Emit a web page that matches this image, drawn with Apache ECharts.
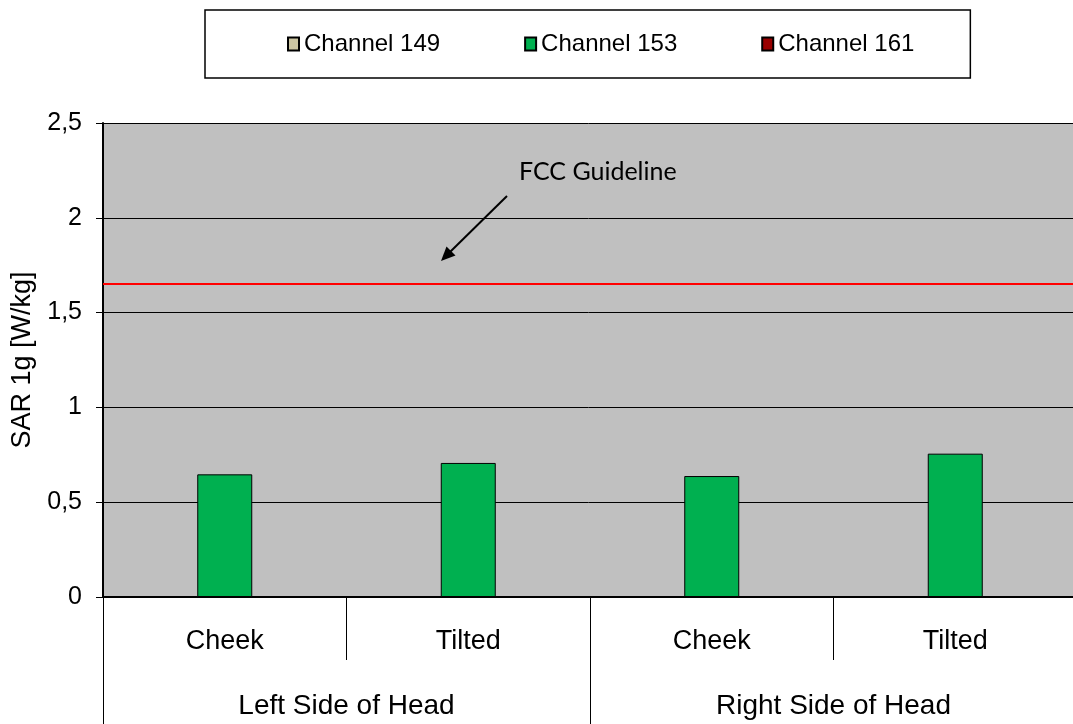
<!DOCTYPE html>
<html>
<head>
<meta charset="utf-8">
<script src="https://cdn.jsdelivr.net/npm/echarts@6/dist/echarts.min.js"></script>
<style>
  html, body { margin: 0; padding: 0; background: #fff; }
  #chart { width: 1073px; height: 724px; }
</style>
</head>
<body>
<div id="chart"></div>
<script>
"use strict";

const positions = ["Cheek", "Tilted", "Cheek", "Tilted"];
const sides = ["Left Side of Head", "Right Side of Head"];
const channel149 = [null, null, null, null];
const channel153 = [0.647, 0.707, 0.638, 0.756];
const channel161 = [null, null, null, null];
const fccLimit = 1.65;

const chart = echarts.init(document.getElementById("chart"));
const font = "'Liberation Sans', Arial, sans-serif";

const barSeries = (name, data, color) => ({
  name,
  type: "bar",
  data,
  barWidth: 55,
  barGap: "0%",
  itemStyle: { color, borderColor: "#000", borderWidth: 1 },
});

const s153 = barSeries("Channel 153", channel153, "#00b050");
s153.markLine = {
  silent: true,
  symbol: "none",
  label: { show: false },
  lineStyle: { color: "#ff0000", width: 2, type: "solid" },
  data: [{ yAxis: fccLimit }],
};

chart.setOption({
  animation: false,
  textStyle: { fontFamily: font },
  legend: {
    left: 205,
    top: 10,
    padding: [22, 56, 22, 82],
    itemGap: 84,
    itemWidth: 11,
    itemHeight: 13,
    icon: "rect",
    borderColor: "#000",
    borderWidth: 1.5,
    textStyle: { fontSize: 24, color: "#000", fontFamily: font },
    data: ["Channel 149", "Channel 153", "Channel 161"],
  },
  grid: {
    left: 103,
    top: 123,
    right: -4,
    bottom: 127,
    outerBoundsMode: "none",
    containLabel: false,
    show: true,
    backgroundColor: "#c0c0c0",
    borderWidth: 0,
  },
  xAxis: [
    {
      type: "category",
      data: positions,
      boundaryGap: true,
      axisLine: { show: true, lineStyle: { color: "#000", width: 2 } },
      axisTick: { show: true, interval: 0, alignWithLabel: false, length: 63, lineStyle: { color: "#000", width: 1 } },
      axisLabel: { interval: 0, fontSize: 27, color: "#000", margin: 31 },
    },
    {
      type: "category",
      data: sides,
      position: "bottom",
      offset: 63,
      boundaryGap: true,
      axisLine: { show: false },
      axisTick: { show: true, interval: 0, alignWithLabel: false, length: 65, lineStyle: { color: "#000", width: 1 } },
      axisLabel: { interval: 0, fontSize: 28, color: "#000", margin: 32 },
    },
  ],
  yAxis: {
    type: "value",
    min: 0,
    max: 2.5,
    interval: 0.5,
    name: "SAR 1g [W/kg]",
    nameLocation: "middle",
    nameGap: 66,
    nameTextStyle: { fontSize: 27, color: "#000", fontFamily: font },
    axisLine: { show: true, lineStyle: { color: "#000", width: 2 } },
    axisTick: { show: true, length: 7, lineStyle: { color: "#000" } },
    axisLabel: {
      fontSize: 25,
      color: "#000",
      margin: 21,
      formatter: (v) => String(v).replace(".", ","),
    },
    splitLine: { show: true, lineStyle: { color: "#000", width: 1 } },
  },
  series: [
    barSeries("Channel 149", channel149, "#ccc6a2"),
    s153,
    barSeries("Channel 161", channel161, "#990000"),
  ],
  graphic: [
    {
      type: "text",
      left: 519,
      top: 159,
      style: { text: "FCC Guideline", fontSize: 25, fontFamily: "Lato, 'Open Sans', sans-serif", fill: "#000" },
    },
    {
      type: "line",
      shape: { x1: 507, y1: 196, x2: 450, y2: 252 },
      style: { stroke: "#000", lineWidth: 2 },
    },
    {
      type: "polygon",
      shape: { points: [[441, 261], [455.5, 255.5], [446.5, 246.5]] },
      style: { fill: "#000" },
    },
  ],
});
</script>
</body>
</html>
